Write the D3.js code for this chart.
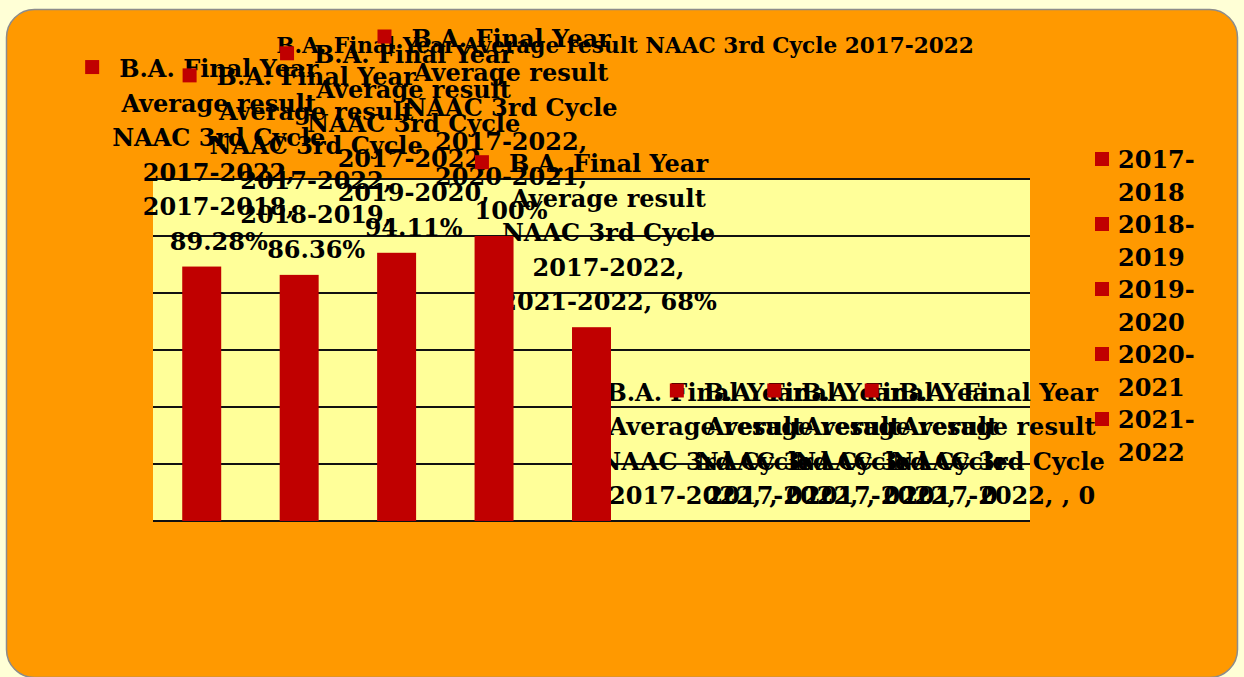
<!DOCTYPE html>
<html>
<head>
    <title>B.A. Final Year Average result</title>
    <script src="https://d3js.org/d3.v7.min.js"></script>
    <style>
        body {
            margin: 0;
            background-color: #ffffd6;
        }

        text {
            font-family: "DejaVu Serif", serif;
            font-weight: bold;
            fill: #000;
        }
    </style>
</head>
<body>
    <svg width="1244" height="677"></svg>

    <script>
        // chart data
        var seriesName = "B.A. Final Year Average result NAAC 3rd Cycle 2017-2022";
        var categories = ["2017-2018", "2018-2019", "2019-2020", "2020-2021", "2021-2022", "", "", "", ""];
        var values = [89.28, 86.36, 94.11, 100, 68, 0, 0, 0, 0];
        var valueLabels = ["89.28%", "86.36%", "94.11%", "100%", "68%", "0", "0", "0", "0"];
        var legendItems = ["2017-2018", "2018-2019", "2019-2020", "2020-2021", "2021-2022"];
        var yTicks = [0, 20, 40, 60, 80, 100, 120];

        var barColor = "#c00000";
        var fontSize = 24;
        var lineHeight = 34.5;
        var wrapWidth = 226;

        var svg = d3.select("svg");

        // outer chart box
        svg.append("rect")
            .attr("x", 6.5)
            .attr("y", 9.5)
            .attr("width", 1231)
            .attr("height", 668)
            .attr("rx", 28)
            .attr("fill", "#ff9900")
            .attr("stroke", "#8c8c8c")
            .attr("stroke-width", 1.5);

        var plot = { left: 153, top: 179, right: 1030, bottom: 521 };

        var x = d3.scaleBand()
            .domain(d3.range(categories.length))
            .range([plot.left, plot.right])
            .paddingInner(0.6)
            .paddingOuter(0.3);

        var y = d3.scaleLinear()
            .domain([0, 120])
            .range([plot.bottom, plot.top]);

        // plot background
        svg.append("rect")
            .attr("x", plot.left)
            .attr("y", plot.top)
            .attr("width", plot.right - plot.left)
            .attr("height", plot.bottom - plot.top)
            .attr("fill", "#ffff99");

        // gridlines
        svg.append("g")
            .selectAll("line")
            .data(yTicks)
            .enter().append("line")
            .attr("x1", plot.left)
            .attr("x2", plot.right)
            .attr("y1", function(d) { return y(d); })
            .attr("y2", function(d) { return y(d); })
            .attr("stroke", "#111")
            .attr("stroke-width", 2);

        // title
        svg.append("text")
            .attr("x", 625)
            .attr("y", 53)
            .attr("text-anchor", "middle")
            .style("font-size", "21.6px")
            .text(seriesName);

        // word wrap helper using measured text widths
        var measure = svg.append("text").style("font-size", fontSize + "px");
        function textWidth(s) {
            measure.text(s);
            return measure.node().getComputedTextLength();
        }
        function wrap(s) {
            var words = s.split(" ");
            var lines = [];
            var cur = "";
            words.forEach(function(w) {
                var test = cur === "" ? w : cur + " " + w;
                if (cur !== "" && textWidth(test) > wrapWidth) {
                    lines.push(cur);
                    cur = w;
                } else {
                    cur = test;
                }
            });
            if (cur !== "") lines.push(cur);
            return lines;
        }

        // data labels: key sits just left of the first line, text centred in its own column
        values.forEach(function(v, i) {
            var full = seriesName + ", " + categories[i] + ", " + valueLabels[i];
            var lines = wrap(full);
            var textW = d3.max(lines, textWidth);
            var keyCol = 34;
            var blockLeft = x(i) + x.bandwidth() / 2 - (keyCol + textW) / 2;
            var cx = blockLeft + keyCol + textW / 2;
            var lastBase = y(v) - 17;
            var firstBase = lastBase - (lines.length - 1) * lineHeight;
            var firstLeft = cx - textWidth(lines[0]) / 2;

            var g = svg.append("g");
            g.append("rect")
                .attr("x", firstLeft - 34)
                .attr("y", firstBase - 17)
                .attr("width", 14)
                .attr("height", 14)
                .attr("fill", barColor);

            g.selectAll("text")
                .data(lines)
                .enter().append("text")
                .attr("x", cx)
                .attr("y", function(d, k) { return firstBase + k * lineHeight; })
                .attr("text-anchor", "middle")
                .style("font-size", fontSize + "px")
                .text(function(d) { return d; });
        });
        measure.remove();

        // bars go on top so the keys that fall inside them are hidden
        svg.append("g")
            .selectAll("rect")
            .data(values)
            .enter().append("rect")
            .attr("x", function(d, i) { return x(i); })
            .attr("y", function(d) { return y(d); })
            .attr("width", x.bandwidth())
            .attr("height", function(d) { return y(0) - y(d); })
            .attr("fill", barColor);

        // legend
        var legend = svg.append("g")
            .selectAll("g")
            .data(legendItems)
            .enter().append("g")
            .attr("transform", function(d, i) { return "translate(1095," + (168 + i * 65) + ")"; });

        legend.append("rect")
            .attr("x", 0)
            .attr("y", -16)
            .attr("width", 14)
            .attr("height", 14)
            .attr("fill", barColor);

        legend.append("text")
            .attr("x", 23)
            .attr("y", 0)
            .style("font-size", fontSize + "px")
            .text(function(d) { return d.split("-")[0] + "-"; });

        legend.append("text")
            .attr("x", 23)
            .attr("y", 33)
            .style("font-size", fontSize + "px")
            .text(function(d) { return d.split("-")[1]; });
    </script>
</body>
</html>
